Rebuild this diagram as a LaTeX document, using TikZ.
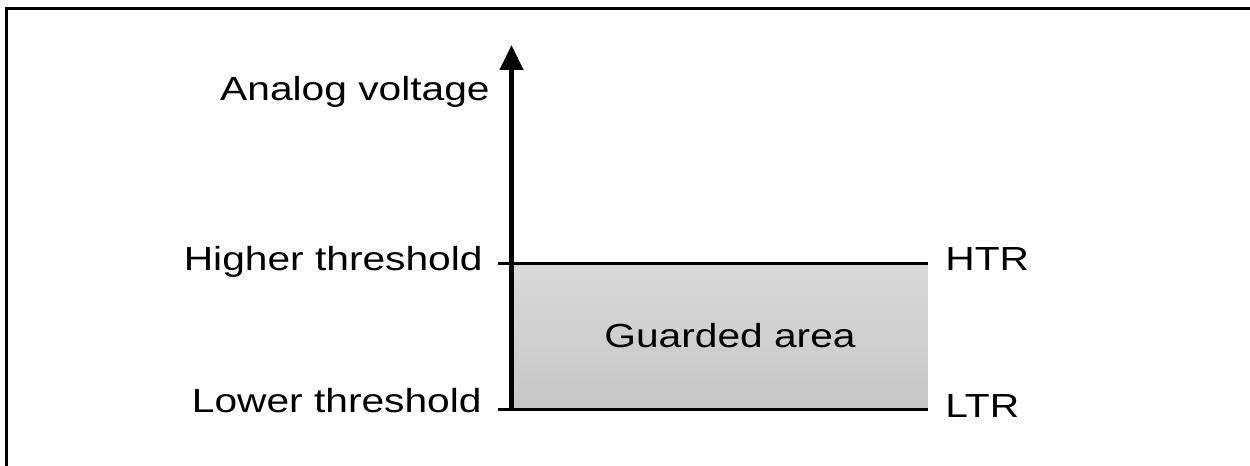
\documentclass[tikz,border=0pt]{standalone}
\usepackage{fontspec}
\setmainfont{Liberation Sans}
\usetikzlibrary{arrows.meta}
\newcommand{\wide}[1]{\scalebox{1.22}[1]{#1}}
\begin{document}
\begin{tikzpicture}[x=0.02cm, y=-0.02cm,
  every node/.style={font=\fontsize{19}{22}\selectfont, inner sep=0pt}]
\useasboundingbox (0,0) rectangle (1250,466);
\draw [line width=1.7pt] (6.5,480) -- (6.5,8.5) -- (1270,8.5);
\coordinate (O) at (511.5,410);
\coordinate (T) at (511.5,45);
\coordinate (HL) at (498,263.3);
\coordinate (HR) at (927.5,263.3);
\coordinate (LL) at (498,409.3);
\coordinate (LR) at (927.5,409.3);
\shade [top color=black!15, bottom color=black!22] (511.5,263.3) rectangle (LR);
\draw [line width=1.9pt] (HL) -- (HR);
\draw [line width=1.9pt] (LL) -- (LR);
\draw [line width=2.5pt, -{Triangle[length=0.5cm, width=0.46cm]}] (O) -- (T);
\node (av) at (490,100) [anchor=base east] {\wide{Analog voltage}};
\node (ht) at (483,270) [anchor=base east] {\wide{Higher threshold}};
\node (lt) at (482,412) [anchor=base east] {\wide{Lower threshold}};
\node (htr) at (945,270) [anchor=base west] {\wide{HTR}};
\node (ltr) at (945,417) [anchor=base west] {\wide{LTR}};
\node (ga) at (730,347) [anchor=base] {\wide{Guarded area}};
\end{tikzpicture}
\end{document}
